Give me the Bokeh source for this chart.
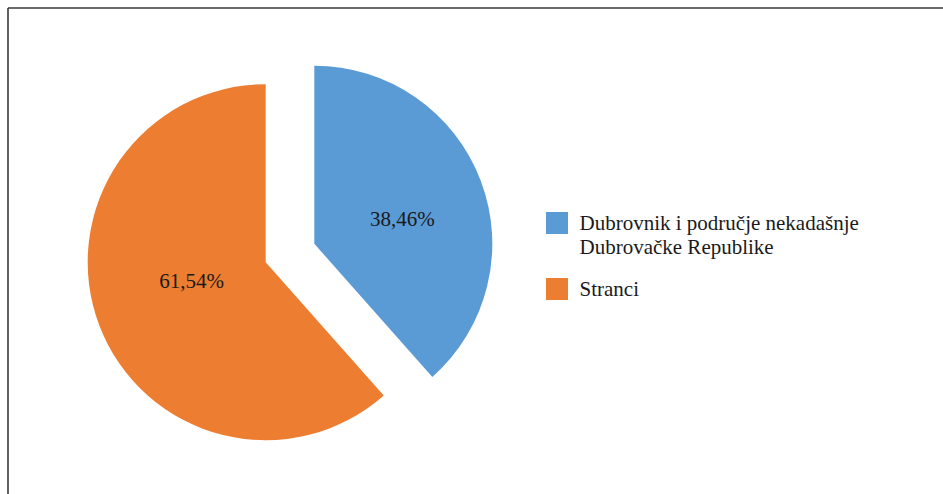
import math
from bokeh.plotting import figure
from bokeh.models import ColumnDataSource, Range1d
from bokeh.core.properties import value
from bokeh.embed import file_html
from bokeh.resources import INLINE

legend_lines = [["Dubrovnik i područje nekadašnje", "Dubrovačke Republike"], ["Stranci"]]
values = [38.46, 61.54]
labels = ["38,46%", "61,54%"]
colors = ["#5B9BD5", "#ED7D31"]

# label placement style (fraction of radius, angular shift in degrees)
label_frac = [0.515, 0.43]
label_shift = [-4.9, -6.4]

W, H = 943, 494
p = figure(width=W, height=H, output_backend="svg", toolbar_location=None,
           x_range=Range1d(0, W), y_range=Range1d(0, H), min_border=0)
p.axis.visible = False
p.grid.visible = False
p.outline_line_color = None
p.background_fill_color = "white"
p.border_fill_color = "white"

# frame (cropped: only top and left visible)
p.segment(x0=[7.5, 7.5], y0=[H - 7.5, H - 7.5], x1=[W + 5, 7.5], y1=[H - 7.5, -5],
          line_color="#3a3a3a", line_width=1.6)

cx, cy = 289.5, H - 252.5
R = 178
explode = 26
total = sum(values)
start = 90.0
xs, ys, starts, ends, lx, ly = [], [], [], [], [], []
for i, v in enumerate(values):
    sweep = v / total * 360.0
    end = start - sweep
    midd = (start + end) / 2
    mid = math.radians(midd)
    ox, oy = cx + explode * math.cos(mid), cy + explode * math.sin(mid)
    xs.append(ox); ys.append(oy)
    starts.append(math.radians(start)); ends.append(math.radians(end))
    la = math.radians(midd + label_shift[i])
    lx.append(ox + label_frac[i] * R * math.cos(la)); ly.append(oy + label_frac[i] * R * math.sin(la))
    start = end

src = ColumnDataSource(dict(x=xs, y=ys, s=starts, e=ends, c=colors, lx=lx, ly=ly, lab=labels))
p.wedge(x="x", y="y", radius=R, radius_units="screen", start_angle="s", end_angle="e",
        direction="clock", fill_color="c", line_color=None, source=src)
p.text(x="lx", y="ly", text="lab", source=src, text_align="center", text_baseline="middle",
       text_font=value("Liberation Serif"), text_font_size="21px", text_color="#1a1a1a")

# legend
sq_x, text_x = 556.5, 579
rows_y = [H - 222.5, H - 288.5]
line_h = 24
p.rect(x=[sq_x] * 2, y=rows_y, width=22, height=22, fill_color=colors, line_color=None)
tx, ty, tt = [], [], []
for i, lines in enumerate(legend_lines):
    for j, t in enumerate(lines):
        tx.append(text_x); ty.append(rows_y[i] - j * line_h); tt.append(t)
p.text(x=tx, y=ty, text=tt, text_align="left", text_baseline="middle",
       text_font=value("Liberation Serif"), text_font_size="21px", text_color="#1a1a1a")

open("out.html", "w").write(file_html(p, INLINE))
